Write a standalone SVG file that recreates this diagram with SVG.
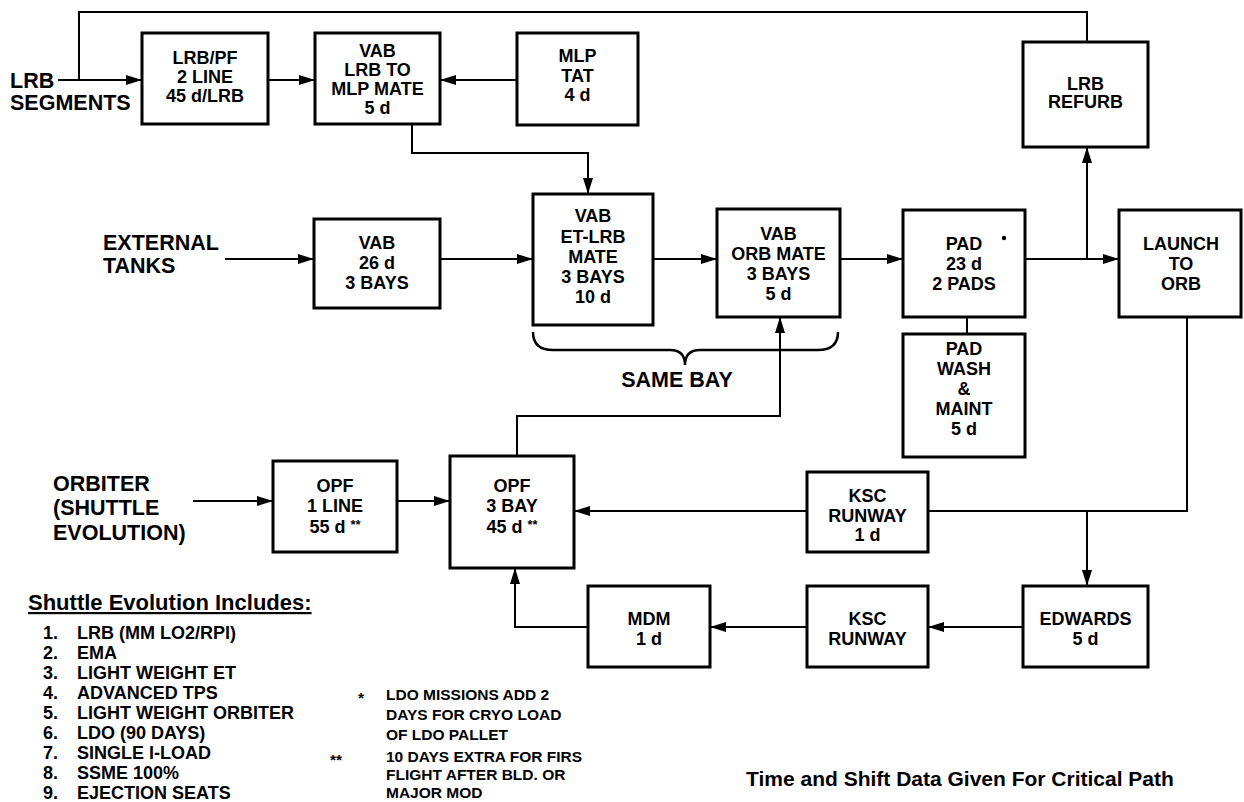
<svg xmlns="http://www.w3.org/2000/svg" width="1244" height="802" viewBox="0 0 1244 802">
<style>
.box{fill:#fff;stroke:#000;stroke-width:3}
.ln{fill:none;stroke:#000;stroke-width:2}
.br{fill:none;stroke:#000;stroke-width:2.5}
text{font-family:"Liberation Sans",Arial,sans-serif;font-weight:bold;fill:#000}
.t{font-size:18px;text-anchor:middle}
.lb{font-size:21.5px}
.li{font-size:18px}
.nt{font-size:15.5px}
.sm{font-size:13px}
</style>
<defs>
<marker id="ah" markerUnits="userSpaceOnUse" markerWidth="16" markerHeight="10" refX="16" refY="5" orient="auto">
<path d="M0,0 L16,5 L0,10 Z" fill="#000"/>
</marker>
</defs>
<rect width="1244" height="802" fill="#fff"/>

<g id="connectors">
<path class="ln" d="M1087,42 V12 H79 V80"/>
<path class="ln" d="M58,80 H142" marker-end="url(#ah)"/>
<path class="ln" d="M268,80 H315" marker-end="url(#ah)"/>
<path class="ln" d="M517,80 H440" marker-end="url(#ah)"/>
<path class="ln" d="M412,124 V153 H588 V194" marker-end="url(#ah)"/>
<path class="ln" d="M225,259 H314" marker-end="url(#ah)"/>
<path class="ln" d="M440,259 H533" marker-end="url(#ah)"/>
<path class="ln" d="M653,259 H717" marker-end="url(#ah)"/>
<path class="ln" d="M840,259 H903" marker-end="url(#ah)"/>
<path class="ln" d="M1025,259 H1119" marker-end="url(#ah)"/>
<path class="ln" d="M1087,259 V147" marker-end="url(#ah)"/>
<path class="ln" d="M967,317 V334"/>
<path class="ln" d="M517,456 V416 H780 V317" marker-end="url(#ah)"/>
<path class="ln" d="M193,501 H273" marker-end="url(#ah)"/>
<path class="ln" d="M397,501 H450" marker-end="url(#ah)"/>
<path class="ln" d="M1187,317 V511 H928"/>
<path class="ln" d="M807,511 H574" marker-end="url(#ah)"/>
<path class="ln" d="M1087,511 V586" marker-end="url(#ah)"/>
<path class="ln" d="M1023,627 H928" marker-end="url(#ah)"/>
<path class="ln" d="M807,627 H710" marker-end="url(#ah)"/>
<path class="ln" d="M588,627 H515 V568" marker-end="url(#ah)"/>
</g>

<g id="same-bay">
<path class="br" d="M533,332 Q533,350 553,350 H670 Q685,350 685,365 Q685,350 700,350 H818 Q838,350 838,332"/>
<text class="lb" x="677" y="387" text-anchor="middle" font-size="21">SAME BAY</text>
</g>

<g id="lrb-segments">
<text class="lb" x="10" y="88">LRB</text>
<text class="lb" x="10" y="110">SEGMENTS</text>
</g>
<g id="external-tanks">
<text class="lb" x="103" y="250">EXTERNAL</text>
<text class="lb" x="103" y="273">TANKS</text>
</g>
<g id="orbiter">
<text class="lb" x="53" y="491">ORBITER</text>
<text class="lb" x="53" y="515">(SHUTTLE</text>
<text class="lb" x="53" y="540">EVOLUTION)</text>
</g>

<g id="lrb-pf">
<rect class="box" x="142" y="33" width="126" height="91"/>
<text class="t" x="205" y="64">LRB/PF</text>
<text class="t" x="205" y="83">2 LINE</text>
<text class="t" x="205" y="102">45 d/LRB</text>
</g>
<g id="vab-lrb-mlp">
<rect class="box" x="315" y="33" width="125" height="91"/>
<text class="t" x="377.5" y="57">VAB</text>
<text class="t" x="377.5" y="76">LRB TO</text>
<text class="t" x="377.5" y="95">MLP MATE</text>
<text class="t" x="377.5" y="114">5 d</text>
</g>
<g id="mlp-tat">
<rect class="box" x="517" y="33" width="121" height="92"/>
<text class="t" x="577.5" y="62">MLP</text>
<text class="t" x="577.5" y="82">TAT</text>
<text class="t" x="577.5" y="101">4 d</text>
</g>
<g id="lrb-refurb">
<rect class="box" x="1023" y="42" width="125" height="105"/>
<text class="t" x="1085.5" y="90">LRB</text>
<text class="t" x="1085.5" y="108">REFURB</text>
</g>
<g id="vab-26d">
<rect class="box" x="314" y="219" width="126" height="89"/>
<text class="t" x="377" y="248.5">VAB</text>
<text class="t" x="377" y="268.5">26 d</text>
<text class="t" x="377" y="288.5">3 BAYS</text>
</g>
<g id="vab-et-lrb">
<rect class="box" x="533" y="194" width="120" height="131"/>
<text class="t" x="593" y="221.5">VAB</text>
<text class="t" x="593" y="242.5">ET-LRB</text>
<text class="t" x="593" y="262.5">MATE</text>
<text class="t" x="593" y="282.5">3 BAYS</text>
<text class="t" x="593" y="302.5">10 d</text>
</g>
<g id="vab-orb-mate">
<rect class="box" x="717" y="209" width="123" height="108"/>
<text class="t" x="778.5" y="239.5">VAB</text>
<text class="t" x="778.5" y="259.5">ORB MATE</text>
<text class="t" x="778.5" y="279.5">3 BAYS</text>
<text class="t" x="778.5" y="299.5">5 d</text>
</g>
<g id="pad">
<rect class="box" x="903" y="210" width="122" height="107"/>
<text class="t" x="964" y="249.5">PAD</text>
<text class="t" x="964" y="269.5">23 d</text>
<text class="t" x="964" y="289.5">2 PADS</text>
<circle cx="1004" cy="238" r="2.2" fill="#000"/>
</g>
<g id="launch">
<rect class="box" x="1119" y="210" width="122" height="107"/>
<text class="t" x="1181" y="249.5">LAUNCH</text>
<text class="t" x="1181" y="269.5">TO</text>
<text class="t" x="1181" y="289.5">ORB</text>
</g>
<g id="pad-wash">
<rect class="box" x="903" y="334" width="122" height="123"/>
<text class="t" x="964" y="354.5">PAD</text>
<text class="t" x="964" y="374.5">WASH</text>
<text class="t" x="964" y="394.5">&amp;</text>
<text class="t" x="964" y="414.5">MAINT</text>
<text class="t" x="964" y="434.5">5 d</text>
</g>
<g id="opf-1-line">
<rect class="box" x="273" y="461" width="124" height="91"/>
<text class="t" x="335" y="491.5">OPF</text>
<text class="t" x="335" y="511.5">1 LINE</text>
<text class="t" x="335" y="532.5">55 d <tspan class="sm" dy="-4">**</tspan></text>
</g>
<g id="opf-3-bay">
<rect class="box" x="450" y="456" width="124" height="112"/>
<text class="t" x="512" y="491.5">OPF</text>
<text class="t" x="512" y="511.5">3 BAY</text>
<text class="t" x="512" y="532.5">45 d <tspan class="sm" dy="-4">**</tspan></text>
</g>
<g id="ksc-runway-1d">
<rect class="box" x="807" y="472" width="121" height="80"/>
<text class="t" x="867.5" y="501.5">KSC</text>
<text class="t" x="867.5" y="521.5">RUNWAY</text>
<text class="t" x="867.5" y="540.5">1 d</text>
</g>
<g id="mdm">
<rect class="box" x="588" y="586" width="122" height="81"/>
<text class="t" x="649" y="624.5">MDM</text>
<text class="t" x="649" y="644.5">1 d</text>
</g>
<g id="ksc-runway">
<rect class="box" x="807" y="586" width="121" height="81"/>
<text class="t" x="867.5" y="624.5">KSC</text>
<text class="t" x="867.5" y="644.5">RUNWAY</text>
</g>
<g id="edwards">
<rect class="box" x="1023" y="586" width="125" height="81"/>
<text class="t" x="1085.5" y="624.5">EDWARDS</text>
<text class="t" x="1085.5" y="644.5">5 d</text>
</g>

<g id="legend">
<text x="28" y="610" font-size="22" text-decoration="underline">Shuttle Evolution Includes:</text>
<g class="li">
<text x="43" y="638.5">1.</text><text x="77" y="638.5">LRB (MM LO2/RPI)</text>
<text x="43" y="658.5">2.</text><text x="77" y="658.5">EMA</text>
<text x="43" y="678.5">3.</text><text x="77" y="678.5">LIGHT WEIGHT ET</text>
<text x="43" y="698.5">4.</text><text x="77" y="698.5">ADVANCED TPS</text>
<text x="43" y="718.5">5.</text><text x="77" y="718.5">LIGHT WEIGHT ORBITER</text>
<text x="43" y="738.5">6.</text><text x="77" y="738.5">LDO (90 DAYS)</text>
<text x="43" y="758.5">7.</text><text x="77" y="758.5">SINGLE I-LOAD</text>
<text x="43" y="778.5">8.</text><text x="77" y="778.5">SSME 100%</text>
<text x="43" y="798.5">9.</text><text x="77" y="798.5">EJECTION SEATS</text>
</g>
</g>

<g id="notes" class="nt">
<text x="358" y="703">*</text>
<text x="386" y="700">LDO MISSIONS ADD 2</text>
<text x="386" y="720">DAYS FOR CRYO LOAD</text>
<text x="386" y="740">OF LDO PALLET</text>
<text x="330" y="765">**</text>
<text x="386" y="762">10 DAYS EXTRA FOR FIRS</text>
<text x="386" y="780">FLIGHT AFTER BLD. OR</text>
<text x="386" y="798">MAJOR MOD</text>
</g>

<g id="footnote">
<text x="746" y="786" font-size="21">Time and Shift Data Given For Critical Path</text>
</g>
</svg>
